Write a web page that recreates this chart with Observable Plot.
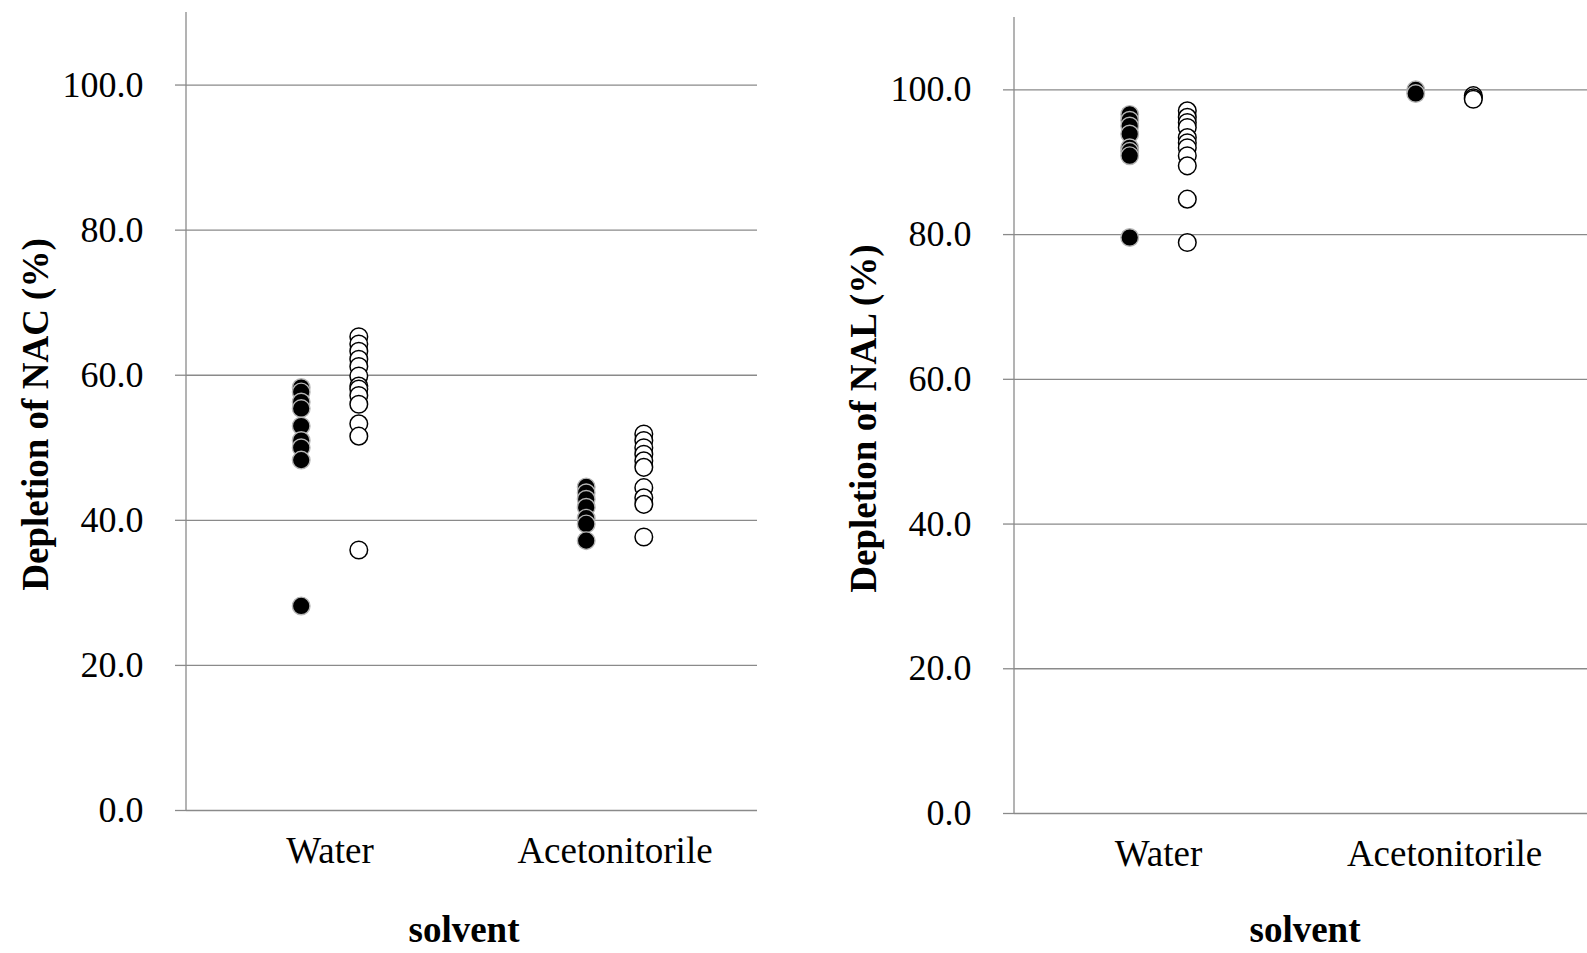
<!DOCTYPE html>
<html>
<head>
<meta charset="utf-8">
<script src="https://cdn.jsdelivr.net/npm/d3@7"></script>
<script src="https://cdn.jsdelivr.net/npm/@observablehq/plot@0.6"></script>
<style>
  html, body { margin: 0; padding: 0; background: #fff; }
  #wrap { display: flex; flex-direction: row; width: 1587px; height: 953px; }
  #wrap svg { display: block; }
</style>
</head>
<body>
<div id="wrap"></div>
<script>
// ---------- data ----------
const categories = ["Water", "Acetonitorile"];
const yTicks = [0, 20, 40, 60, 80, 100];

// Depletion of NAC (%)
const nacWaterFilled = [58.3, 57.7, 56.3, 55.4, 53.0, 51.0, 50.0, 48.3, 28.2];
const nacWaterOpen   = [65.3, 64.3, 63.3, 62.2, 61.2, 59.9, 58.5, 58.1, 57.2, 56.0, 53.3, 51.6, 35.9];
const nacAcetoFilled = [44.6, 43.8, 42.9, 41.8, 40.3, 39.5, 37.2];
const nacAcetoOpen   = [51.9, 51.0, 50.0, 49.1, 48.2, 47.3, 44.5, 43.1, 42.2, 37.7];

// Depletion of NAL (%)
const nalWaterFilled = [96.6, 95.8, 95.0, 93.9, 92.0, 91.5, 90.9, 79.6];
const nalWaterOpen   = [97.1, 96.2, 95.5, 94.8, 93.4, 92.7, 92.0, 90.9, 89.5, 84.9, 78.9];
const nalAcetoFilled = [100.0, 99.5];
const nalAcetoOpen   = [99.2, 98.9, 98.7];

const yLabels = ["Depletion of NAC (%)", "Depletion of NAL (%)"];
const xLabel = "solvent";

// ---------- helpers ----------
const FONT = "'Liberation Serif', 'Times New Roman', Times, serif";
const GRID = "#8a8a8a";

function rows(cat, vals) { return vals.map(v => ({solvent: cat, value: v})); }

function axisLine() {
  return (index, scales, values, dimensions) => {
    const {marginLeft} = dimensions;
    const g = d3.create("svg:g");
    g.append("line")
      .attr("x1", marginLeft).attr("x2", marginLeft)
      .attr("y1", scales.y(110)).attr("y2", scales.y(0))
      .attr("stroke", GRID).attr("stroke-width", 1.3);
    return g.node();
  };
}

function makeChart(filled, open, yLabel, cfg) {
  return Plot.plot({
    width: cfg.width,
    height: 953,
    marginLeft: cfg.ml,
    marginRight: cfg.mr,
    marginTop: cfg.mt,
    marginBottom: cfg.mb,
    style: {fontFamily: FONT, fontSize: "36px", background: "white", color: "black", overflow: "visible"},
    x: {type: "band", domain: categories, padding: 0, label: null},
    y: {domain: [0, 110], label: null},
    marks: [
      Plot.gridY(yTicks, {stroke: GRID, strokeOpacity: 1, strokeWidth: 1.3}),
      Plot.axisY(yTicks, {
        tickSize: 11, tickPadding: 32, tickFormat: d3.format(".1f"),
        stroke: GRID, strokeWidth: 1.3, fill: "black", fontSize: 36, label: null
      }),
      Plot.axisX({tickSize: 0, tickPadding: 26, fontSize: 37, fill: "black", label: null}),
      axisLine(),
      Plot.dot(filled, {
        x: "solvent", y: "value", dx: -28.8, r: 8.8,
        fill: "black", stroke: "#b5b5b5", strokeWidth: 1.4
      }),
      Plot.dot(open, {
        x: "solvent", y: "value", dx: 28.8, r: 8.8,
        fill: "white", stroke: "black", strokeWidth: 1.5
      }),
      Plot.text([yLabel], {
        text: d => d, frameAnchor: "left", textAnchor: "middle", lineAnchor: "middle",
        dx: -150, dy: 3, rotate: -90,
        fontSize: 37, fontWeight: "bold", fill: "black"
      }),
      Plot.text([xLabel], {
        text: d => d, frameAnchor: "bottom", textAnchor: "middle", lineAnchor: "middle",
        dx: cfg.xlDx, dy: cfg.xlDy,
        fontSize: 37, fontWeight: "bold", fill: "black"
      })
    ]
  });
}

const left = makeChart(
  rows(categories[0], nacWaterFilled).concat(rows(categories[1], nacAcetoFilled)),
  rows(categories[0], nacWaterOpen).concat(rows(categories[1], nacAcetoOpen)),
  yLabels[0],
  {width: 793, ml: 186, mr: 36, mt: 12, mb: 143, xlDx: -8, xlDy: 120}
);
const right = makeChart(
  rows(categories[0], nalWaterFilled).concat(rows(categories[1], nalAcetoFilled)),
  rows(categories[0], nalWaterOpen).concat(rows(categories[1], nalAcetoOpen)),
  yLabels[1],
  {width: 794, ml: 221, mr: 0, mt: 17, mb: 140, xlDx: 4, xlDy: 117}
);

document.getElementById("wrap").append(left, right);
</script>
</body>
</html>
